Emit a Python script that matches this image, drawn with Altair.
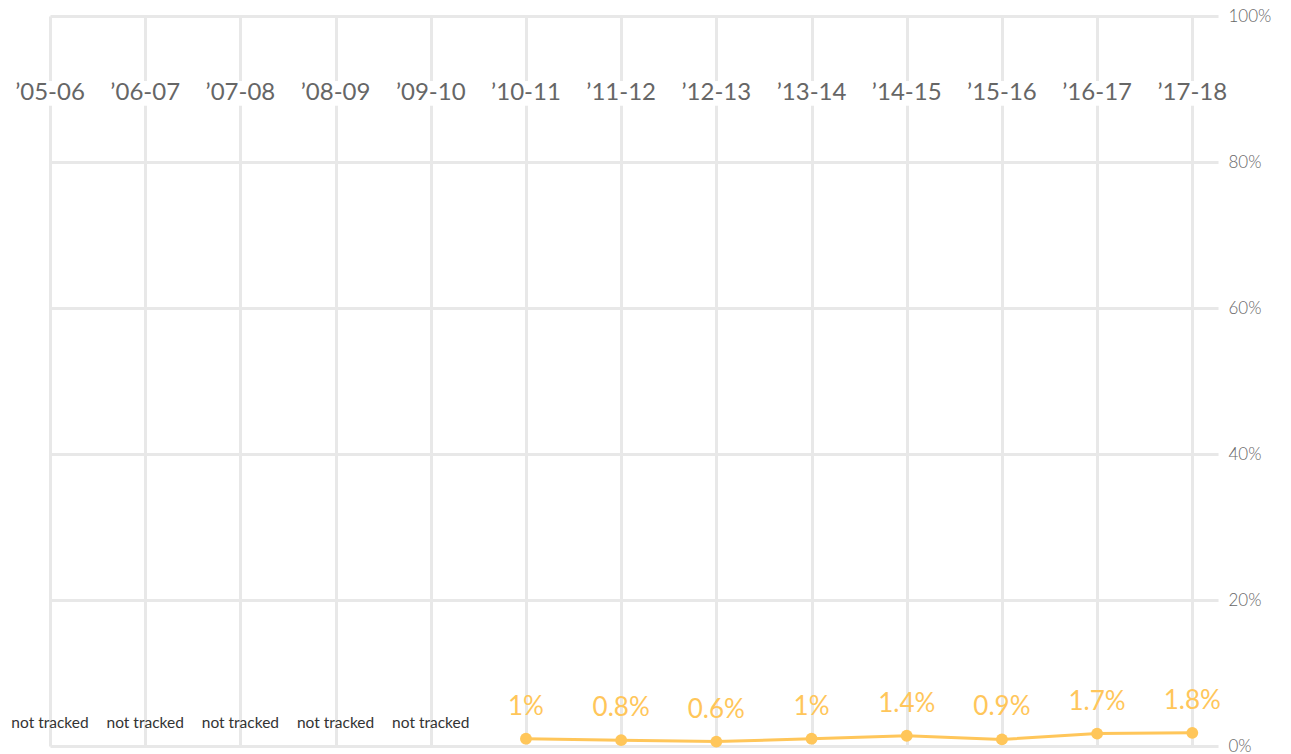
import altair as alt
import pandas as pd

seasons = ["\u201905-06", "\u201906-07", "\u201907-08", "\u201908-09", "\u201909-10", "\u201910-11",
           "\u201911-12", "\u201912-13", "\u201913-14", "\u201914-15", "\u201915-16", "\u201916-17", "\u201917-18"]
values = [None, None, None, None, None, 1, 0.8, 0.6, 1, 1.4, 0.9, 1.7, 1.8]
value_labels = ["", "", "", "", "", "1%", "0.8%", "0.6%", "1%", "1.4%", "0.9%", "1.7%", "1.8%"]
note_text = "not tracked"
y_ticks = [0, 20, 40, 60, 80, 100]

FONT = "Lato"
ORANGE = "#FFC65A"
GRID = "#E8E8E8"

df = pd.DataFrame({
    "season": seasons,
    "idx": list(range(len(seasons))),
    "value": values,
    "label": value_labels,
})
df["note"] = [note_text if v is None else "" for v in values]
tracked = df[df["value"].notna()]
untracked = df[df["value"].isna()]

x_scale = alt.Scale(domain=[0, 12.27], nice=False, zero=False, padding=0)
y_scale = alt.Scale(domain=[0, 100], nice=False, padding=0)

x_enc = alt.X("idx:Q", scale=x_scale,
              axis=alt.Axis(orient="top", values=list(range(len(seasons))), labels=False,
                            ticks=False, domain=False, grid=True, gridColor=GRID, gridWidth=3, title=None))

base_grid = alt.Chart(df).mark_point(opacity=0).encode(
    x=x_enc,
    y=alt.Y("value:Q", scale=y_scale,
            axis=alt.Axis(orient="right", values=y_ticks, labelExpr="datum.value + '%'",
                          ticks=False, domain=False, grid=True, gridColor=GRID, gridWidth=3,
                          labelFont=FONT, labelFontSize=17, labelFontWeight=300, labelColor="#666666",
                          labelPadding=10, title=None)),
)

bg = alt.Chart(df).mark_bar(color="white", size=80).encode(
    x=alt.X("idx:Q", scale=x_scale),
    y=alt.Y(datum=87.7, scale=y_scale),
    y2=alt.Y2(datum=91.1),
)

xlabels = alt.Chart(df).mark_text(font=FONT, fontSize=24, color="#666666",
                                  baseline="middle").encode(
    x=alt.X("idx:Q", scale=x_scale),
    y=alt.Y(datum=89.45, scale=y_scale),
    text="season:N",
)

line = alt.Chart(tracked).mark_line(color=ORANGE, strokeWidth=3).encode(
    x=alt.X("idx:Q", scale=x_scale),
    y=alt.Y("value:Q", scale=y_scale),
)
pts = alt.Chart(tracked).mark_circle(color=ORANGE, size=140, opacity=1).encode(
    x=alt.X("idx:Q", scale=x_scale),
    y=alt.Y("value:Q", scale=y_scale),
)
vlabels = alt.Chart(tracked).mark_text(font=FONT, fontSize=26, color=ORANGE, dy=-24,
                                       baseline="alphabetic").encode(
    x=alt.X("idx:Q", scale=x_scale),
    y=alt.Y("value:Q", scale=y_scale),
    text="label:N",
)
notes = alt.Chart(untracked).mark_text(font=FONT, fontSize=15.5, color="#333333", dy=-18,
                                       baseline="alphabetic").encode(
    x=alt.X("idx:Q", scale=x_scale),
    y=alt.Y(datum=0, scale=y_scale),
    text="note:N",
)

chart = alt.layer(base_grid, bg, xlabels, line, pts, vlabels, notes).properties(
    width=1168, height=730,
    autosize=alt.AutoSizeParams(type="none"),
    padding={"left": 42, "top": 8, "right": 65, "bottom": 8},
).configure_view(stroke=None)

chart.save("out.html", embed_options={"renderer": "svg", "actions": False})
